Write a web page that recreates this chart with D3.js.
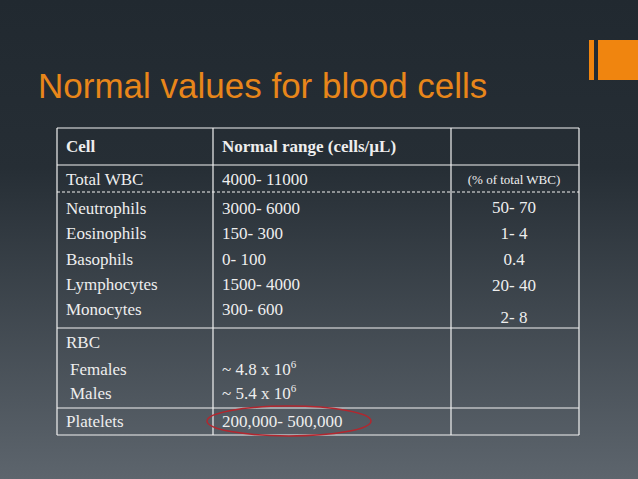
<!DOCTYPE html>
<html><head><meta charset="utf-8">
<script src="https://cdn.jsdelivr.net/npm/d3@7"></script>
<style>body{margin:0;overflow:hidden}</style>
</head><body><div id="wrapper"></div>
<script>
// Data
const title = "Normal values for blood cells";
const headers = ["Cell", "Normal range (cells/\u00b5L)", ""];
const cellNames = ["Total WBC", "Neutrophils", "Eosinophils", "Basophils", "Lymphocytes", "Monocytes", "RBC", " Females", " Males", "Platelets"];
const ranges = ["4000- 11000", "3000- 6000", "150- 300", "0- 100", "1500- 4000", "300- 600", "", "~ 4.8 x 10|6", "~ 5.4 x 10|6", "200,000- 500,000"];
const percents = ["(% of total WBC)", "50- 70", "1- 4", "0.4", "20- 40", "2- 8", "", "", "", ""];
const textY = [179, 208, 233, 259, 284, 309, 342, 369, 393, 421];
const pctY = [179, 208, 234, 260, 286, 318, 0, 0, 0, 0];
const rowLines = [128, 165, 192, 328, 408, 435];
const colLines = [57, 213, 451, 579];

const width = 638, height = 479;
const svg = d3.select("#wrapper").append("svg").attr("width", width).attr("height", height);

const grad = svg.append("defs").append("linearGradient").attr("id", "bg")
  .attr("x1", 0).attr("y1", 0).attr("x2", 0).attr("y2", 1);
grad.append("stop").attr("offset", "0%").attr("stop-color", "#212930");
grad.append("stop").attr("offset", "35%").attr("stop-color", "#262e35");
grad.append("stop").attr("offset", "100%").attr("stop-color", "#5d656d");
svg.append("rect").attr("width", width).attr("height", height).attr("fill", "url(#bg)");

// logo
svg.append("rect").attr("x", 589).attr("y", 40).attr("width", 5).attr("height", 40).attr("fill", "#f0850f");
svg.append("rect").attr("x", 598).attr("y", 40).attr("width", 40).attr("height", 40).attr("fill", "#f0850f");

svg.append("text").attr("x", 38).attr("y", 98).text(title)
  .attr("fill", "#e8861a").style("font-family", "Liberation Sans, Arial").style("font-size", "35px");

// table grid
const y = d3.scaleLinear().domain([0, height]).range([0, height]);
const grid = svg.append("g").attr("stroke", "#f2f2f2").attr("stroke-width", 1.2);
grid.selectAll(".h").data(rowLines).join("line")
  .attr("x1", colLines[0]).attr("x2", colLines[3])
  .attr("y1", d => y(d)).attr("y2", d => y(d))
  .attr("stroke-dasharray", (d, i) => i === 2 ? "3 2" : null);
grid.selectAll(".v").data(colLines).join("line")
  .attr("x1", d => d).attr("x2", d => d)
  .attr("y1", y(rowLines[0])).attr("y2", y(rowLines[5]));

const font = "Liberation Serif, DejaVu Serif, serif";
const txt = svg.append("g").attr("fill", "#eeeeee").style("font-family", font).style("font-size", "17px");

txt.selectAll(".hd").data(headers).join("text")
  .attr("x", (d, i) => colLines[i] + 9).attr("y", 152)
  .style("font-weight", "bold").text(d => d);

txt.selectAll(".c").data(cellNames).join("text")
  .attr("x", d => d.startsWith(" ") ? 70 : 66).attr("y", (d, i) => y(textY[i] + 6))
  .text(d => d.trim());

txt.selectAll(".r").data(ranges).join("text")
  .attr("x", 222).attr("y", (d, i) => y(textY[i] + 6))
  .each(function (d) {
    const parts = d.split("|");
    const t = d3.select(this);
    t.append("tspan").text(parts[0]);
    if (parts[1]) t.append("tspan").attr("dy", -7).style("font-size", "11px").text(parts[1]);
  });

txt.selectAll(".p").data(percents).join("text")
  .attr("x", 514).attr("y", (d, i) => y(pctY[i] + 5))
  .attr("text-anchor", "middle")
  .style("font-size", (d, i) => i === 0 ? "13px" : "17px")
  .text(d => d);

// highlight
svg.append("ellipse").attr("cx", 289).attr("cy", 421).attr("rx", 82).attr("ry", 15)
  .attr("fill", "none").attr("stroke", "#b3262e").attr("stroke-width", 1.5);
</script></body></html>
